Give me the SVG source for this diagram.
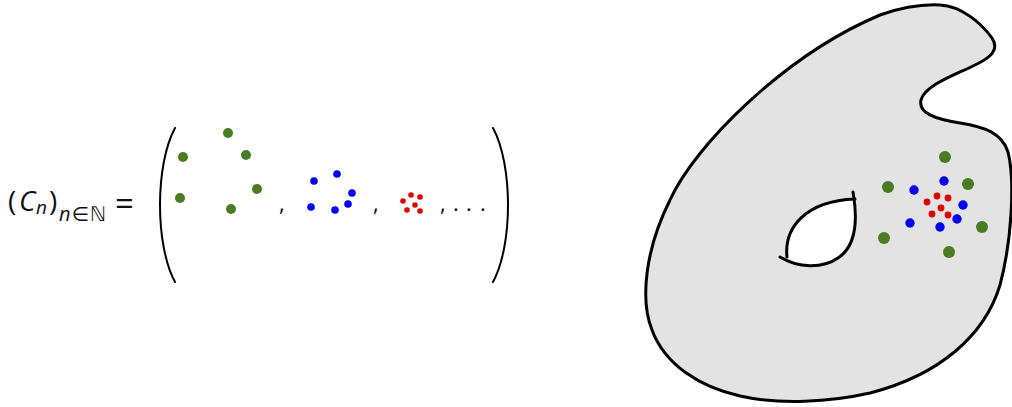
<svg xmlns="http://www.w3.org/2000/svg" width="1012" height="407" viewBox="0 0 1012 407">
<style>
.g{fill:#4a7c22}
.b{fill:#0000f5}
.r{fill:#e00000}
.t{font-family:"Open Sans","DejaVu Sans",sans-serif;fill:#111}
.line{fill:none;stroke:#000;stroke-linecap:round;stroke-linejoin:round}
</style>
<rect width="1012" height="407" fill="#fff"/>
<g id="formula">
<text class="t" x="8" y="211" font-size="28">(</text>
<text class="t" x="19" y="211" font-size="28" font-style="italic">C</text>
<text class="t" x="36" y="214" font-size="19" font-style="italic">n</text>
<text class="t" x="49" y="211" font-size="28">)</text>
<text class="t" x="59" y="221" font-size="20" letter-spacing="1"><tspan font-style="italic">n</tspan>∈ℕ</text>
<text class="t" x="115" y="215" font-size="33">=</text>
<path class="line" stroke-width="2" d="M175,128 C155,165 155,245 175,282"/>
<path class="line" stroke-width="2" d="M493,128 C513,165 513,245 493,282"/>
<text class="t" x="279" y="211" font-size="22">,</text>
<text class="t" x="373" y="211" font-size="22">,</text>
<text class="t" x="440" y="211" font-size="22">,</text>
<text class="t" x="453 466 480" y="211" font-size="22">...</text>
</g>
<g id="set-C1">
<circle class="g" cx="183" cy="157" r="5"/>
<circle class="g" cx="228" cy="133" r="5"/>
<circle class="g" cx="246" cy="155" r="5"/>
<circle class="g" cx="257" cy="189" r="5"/>
<circle class="g" cx="180" cy="198" r="5"/>
<circle class="g" cx="231" cy="209" r="5"/>
</g>
<g id="set-C2">
<circle class="b" cx="314" cy="181" r="3.8"/>
<circle class="b" cx="337" cy="174" r="3.8"/>
<circle class="b" cx="352" cy="193" r="3.8"/>
<circle class="b" cx="348" cy="204" r="3.8"/>
<circle class="b" cx="311" cy="207" r="3.8"/>
<circle class="b" cx="335" cy="210" r="3.8"/>
</g>
<g id="set-C3">
<circle class="r" cx="403" cy="201" r="2.8"/>
<circle class="r" cx="411" cy="195" r="2.8"/>
<circle class="r" cx="420" cy="197" r="2.8"/>
<circle class="r" cx="415" cy="205" r="2.8"/>
<circle class="r" cx="407" cy="210" r="2.8"/>
<circle class="r" cx="420" cy="211" r="2.8"/>
</g>
<g id="surface">
<path fill="#e3e3e3" stroke="#000" stroke-width="3" stroke-linejoin="round" d="M940,5 C962,6 982,24 992,38 C1000,50 990,58 975,65 C955,75 925,85 921,100 C918,113 935,119 960,123 C985,127 1002,133 1008,152 C1015,180 1012,240 1000,285 C985,335 940,375 870,393 C830,402 780,405 740,396 C700,387 665,365 652,330 C640,300 645,250 670,200 C695,145 785,55 880,15 C900,8 920,4 940,5 Z"/>
<path fill="#fff" d="M855,199 C858,240 840,266 810,266 C800,266 792,262 787,258 C785,230 805,202 855,199 Z"/>
<path class="line" stroke-width="3" d="M853,192 C857,215 858,245 838,258 C822,269 798,268 780,257"/>
<path class="line" stroke-width="3" d="M787,257 C784,228 805,201 855,199"/>
</g>
<g id="limit-points">
<circle class="g" cx="945" cy="157" r="6"/>
<circle class="g" cx="888" cy="187" r="6"/>
<circle class="g" cx="968" cy="184" r="6"/>
<circle class="g" cx="982" cy="227" r="6"/>
<circle class="g" cx="884" cy="238" r="6"/>
<circle class="g" cx="949" cy="252" r="6"/>
<circle class="b" cx="944" cy="181" r="4.7"/>
<circle class="b" cx="914" cy="190" r="4.7"/>
<circle class="b" cx="963" cy="205" r="4.7"/>
<circle class="b" cx="957" cy="219" r="4.7"/>
<circle class="b" cx="910" cy="223" r="4.7"/>
<circle class="b" cx="940" cy="227" r="4.7"/>
<circle class="r" cx="937" cy="196" r="3.4"/>
<circle class="r" cx="948" cy="198" r="3.4"/>
<circle class="r" cx="927" cy="202" r="3.4"/>
<circle class="r" cx="941" cy="208" r="3.4"/>
<circle class="r" cx="932" cy="214" r="3.4"/>
<circle class="r" cx="948" cy="215" r="3.4"/>
</g>
</svg>
